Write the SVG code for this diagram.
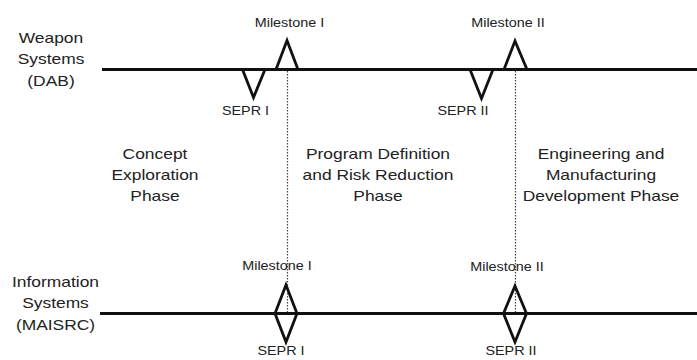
<svg xmlns="http://www.w3.org/2000/svg" width="697" height="360" viewBox="0 0 697 360">
<style>
.axis{stroke:#111;stroke-width:3;fill:none}
.mark{stroke:#111;stroke-width:2.8;fill:none;stroke-linejoin:miter}
.dot{stroke:#444;stroke-width:1.2;stroke-dasharray:1.5 1.5;fill:none}
text{font-family:"Liberation Sans",Arial,sans-serif;fill:#222;text-anchor:middle}
.big{font-size:15px}
.small{font-size:12.4px}
</style>
<rect width="697" height="360" fill="#fff"/>
<g id="connectors">
<line class="axis" x1="102" y1="69.5" x2="697" y2="69.5"/>
<line class="axis" x1="100" y1="313.5" x2="697" y2="313.5"/>
<line class="dot" x1="287.5" y1="71" x2="287.5" y2="312"/>
<line class="dot" x1="515.5" y1="71" x2="515.5" y2="312"/>
</g>
<g id="ws-milestone1"><polyline class="mark" points="276,69.5 287,40.5 298,69.5"/></g>
<g id="ws-sepr1"><polyline class="mark" points="242.5,69.5 253.5,97.5 265,69.5"/></g>
<g id="ws-milestone2"><polyline class="mark" points="504,69.5 515,41 527,69.5"/></g>
<g id="ws-sepr2"><polyline class="mark" points="470,69.5 481.5,98.5 493,69.5"/></g>
<g id="is-milestone1"><polygon class="mark" points="286,285 297,313.5 286,342 275,313.5"/></g>
<g id="is-milestone2"><polygon class="mark" points="515,286 526.5,313.5 515,342 503.5,313.5"/></g>
<g id="labels" transform="scale(1.16 1)">
<g id="weapon-label" class="big"><text x="43.97" y="43">Weapon</text><text x="43.97" y="64.5">Systems</text><text x="43.97" y="86">(DAB)</text></g>
<g id="info-label" class="big"><text x="47.84" y="287">Information</text><text x="47.84" y="308.5">Systems</text><text x="47.84" y="330">(MAISRC)</text></g>
<g id="phase-concept" class="big"><text x="133.62" y="159">Concept</text><text x="133.62" y="180">Exploration</text><text x="133.62" y="201">Phase</text></g>
<g id="phase-pdrr" class="big"><text x="325.86" y="159">Program Definition</text><text x="325.86" y="180">and Risk Reduction</text><text x="325.86" y="201">Phase</text></g>
<g id="phase-emd" class="big"><text x="518.1" y="159">Engineering and</text><text x="518.1" y="180">Manufacturing</text><text x="518.1" y="201">Development Phase</text></g>
<g class="small">
<text x="249.57" y="27">Milestone I</text>
<text x="211.64" y="115">SEPR I</text>
<text x="437.93" y="27">Milestone II</text>
<text x="399.14" y="115">SEPR II</text>
<text x="238.79" y="270">Milestone I</text>
<text x="242.24" y="355">SEPR I</text>
<text x="437.07" y="271">Milestone II</text>
<text x="440.52" y="355">SEPR II</text>
</g>
</g>
</svg>
